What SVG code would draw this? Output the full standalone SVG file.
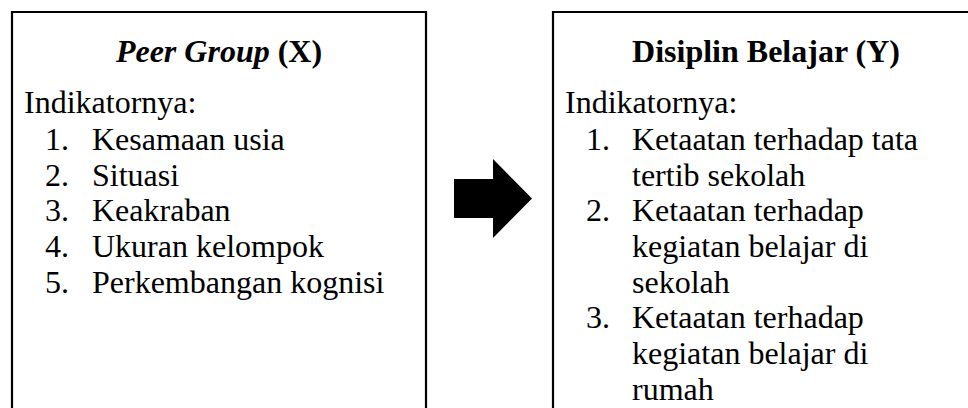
<svg xmlns="http://www.w3.org/2000/svg" width="968" height="408" viewBox="0 0 968 408">
<style>
.box{fill:none;stroke:#000;stroke-width:2.2}
.t{font-size:32px;fill:#000}
.h{font-weight:bold;text-anchor:middle}
</style>
<rect width="968" height="408" fill="#fff"/>
<g font-family="Liberation Serif, DejaVu Serif, serif">
<g id="peer-group">
<path class="box" d="M12,412 V12 H426 V412"/>
<text class="t h" x="219" y="62"><tspan font-style="italic">Peer Group</tspan> (X)</text>
<text class="t" x="24" y="113">Indikatornya:</text>
<text class="t" x="45" y="150">1.</text><text class="t" x="92" y="150">Kesamaan usia</text>
<text class="t" x="45" y="186">2.</text><text class="t" x="92" y="186">Situasi</text>
<text class="t" x="45" y="221">3.</text><text class="t" x="92" y="221">Keakraban</text>
<text class="t" x="45" y="257">4.</text><text class="t" x="92" y="257">Ukuran kelompok</text>
<text class="t" x="45" y="293">5.</text><text class="t" x="92" y="293">Perkembangan kognisi</text>
</g>
<g id="connectors">
<polygon points="454,179 493,179 493,159 532,198.5 493,238 493,218 454,218" fill="#000"/>
</g>
<g id="disiplin-belajar">
<path class="box" d="M553,412 V12 H972"/>
<text class="t h" x="766" y="62">Disiplin Belajar (Y)</text>
<text class="t" x="565" y="113">Indikatornya:</text>
<text class="t" x="586" y="150">1.</text><text class="t" x="632" y="150">Ketaatan terhadap tata</text>
<text class="t" x="632" y="186">tertib sekolah</text>
<text class="t" x="586" y="221">2.</text><text class="t" x="632" y="221">Ketaatan terhadap</text>
<text class="t" x="632" y="257">kegiatan belajar di</text>
<text class="t" x="632" y="293">sekolah</text>
<text class="t" x="586" y="328">3.</text><text class="t" x="632" y="328">Ketaatan terhadap</text>
<text class="t" x="632" y="364">kegiatan belajar di</text>
<text class="t" x="632" y="400">rumah</text>
</g>
</g>
</svg>
